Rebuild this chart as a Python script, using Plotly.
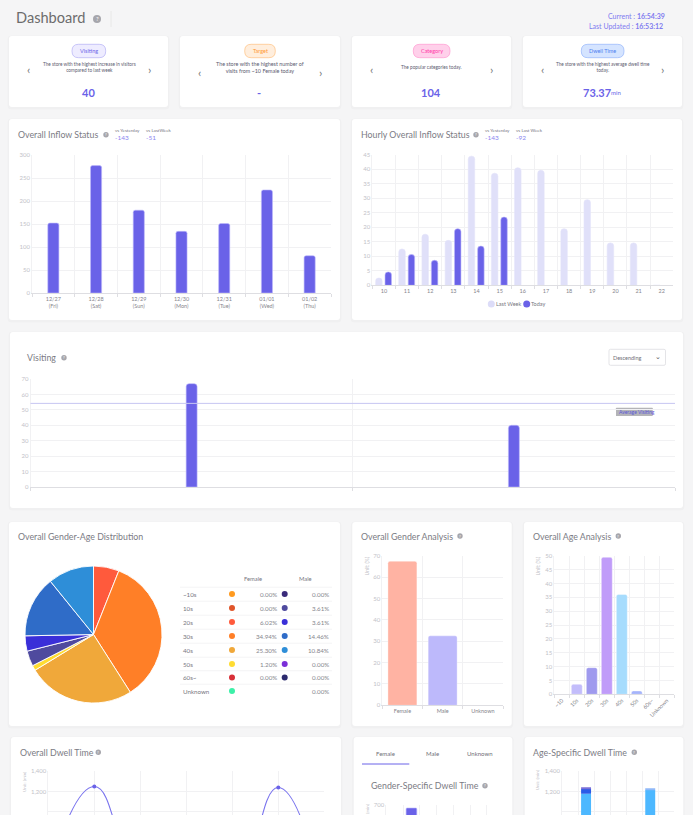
#!/usr/bin/env python3
# -*- coding: utf-8 -*-
import plotly.graph_objects as go

# page size in pixels
W = 693
H = 815
FONT = "Lato"

PURPLE = "#6a62e8"
LIGHT_PURPLE = "#bdb9fb"
TITLE_GREY = "#7b7b84"
TICK_GREY = "#c2c2c8"
GRID = "#f1f1f3"
AXIS_LINE = "#dedee2"
TITLE_SIZE = 8.8

# Overall inflow
inflow_days = ["12/27<br>(Fri)", "12/28<br>(Sat)", "12/29<br>(Sun)", "12/30<br>(Mon)",
               "12/31<br>(Tue)", "01/01<br>(Wed)", "01/02<br>(Thu)"]
inflow_values = [152, 277, 180, 134, 151, 224, 81]

# Hourly inflow
hours = ["10", "11", "12", "13", "14", "15", "16", "17", "18", "19", "20", "21", "22"]
hourly_last_week = [2.5, 12.5, 17.6, 15.5, 44.5, 38.6, 40.5, 39.6, 19.5, 29.5, 14.6, 14.6, 0]
hourly_today = [4.6, 10.6, 8.6, 19.5, 13.5, 23.5, None, None, None, None, None, None, None]

# Visiting
visiting_stores = ["A", "B"]
visiting_values = [67, 40]
visiting_average = 54.2

# Gender-age distribution
age_rows = ["~10s", "10s", "20s", "30s", "40s", "50s", "60s~", "Unknown"]
female_pct = [0.00, 0.00, 6.02, 34.94, 25.30, 1.20, 0.00, None]
male_pct = [0.00, 3.61, 3.61, 14.46, 10.84, 0.00, 0.00, 0.00]
female_colors = ["#ff9a1f", "#e0552a", "#ff5a3c", "#ff7f27", "#f0a83a", "#ffdc32", "#d83038", "#3cf0a8"]
male_colors = ["#3a2a7a", "#4f4a9e", "#3a2fd8", "#2f6cc8", "#2e8ed8", "#7b2fd8", "#2c2a6e"]

# Gender analysis
gender_names = ["Female", "Male", "Unknown"]
gender_values = [67.4, 32.5, 0]
gender_colors = ["#ffb3a3", "#bdb9fb", "#dddddd"]

# Age analysis
age_names = ["~10", "10s", "20s", "30s", "40s", "50s", "60s~", "Unknown"]
age_values = [0, 3.6, 9.6, 49.4, 36.0, 1.2, 0, 0]
age_colors = ["#c3bdfb", "#c3bdfb", "#9f9aee", "#c09cf9", "#a6dcfd", "#a5b4fb", "#a5b4fb", "#a5b4fb"]

# Dwell time
dwell_slots = [0, 1, 2, 3, 4, 5, 6]
dwell_values = [380, 1250, 380, 400, 250, 1240, 150]
gender_dwell_slots = ["a", "b", "c", "d", "e", "f", "g"]
gender_dwell_values = [0, 685, 0, 0, 0, 0, 0]
age_dwell_slots = ["a", "b", "c", "d", "e", "f", "g"]
age_dwell_first = [0, 1180, 0, 0, 0, 1215, 0]
age_dwell_second = [0, 45, 0, 0, 0, 17, 0]
age_dwell_third = [0, 15, 0, 0, 0, 0, 0]
age_dwell_second_colors = ["#2a5be8", "#2a5be8", "#2a5be8", "#2a5be8", "#2a5be8", "#8fb8f8", "#2a5be8"]

# top cards text
card_tags = ["Visiting", "Target", "Category", "Dwell Time"]
card_notes = ["The store with the highest increase in visitors<br>compared to last week",
              "The store with the highest number of<br>visits from ~10 Female today",
              "The popular categories today.",
              "The store with the highest average dwell time<br>today."]
card_numbers = ["40", "-", "104", "73.37"]


def px(x):
    return x / W


def py(y):
    return 1 - y / H


shapes = []
annotations = []


def text(x, y, s, size=6, color=TITLE_GREY, anchor="left", angle=0):
    annotations.append(dict(x=px(x), y=py(y), xref="paper", yref="paper", text=s, showarrow=False,
                            xanchor=anchor, yanchor="middle", textangle=angle,
                            font=dict(family=FONT, size=size, color=color),
                            borderpad=0, borderwidth=0))


def rounded(x0, y0, x1, y1, r, fill, line=None, width=0.7):
    X0, X1 = px(x0), px(x1)
    Y0, Y1 = py(y0), py(y1)
    rx, ry = r / W, r / H
    path = (f"M {X0 + rx} {Y0} L {X1 - rx} {Y0} Q {X1} {Y0} {X1} {Y0 - ry} "
            f"L {X1} {Y1 + ry} Q {X1} {Y1} {X1 - rx} {Y1} "
            f"L {X0 + rx} {Y1} Q {X0} {Y1} {X0} {Y1 + ry} "
            f"L {X0} {Y0 - ry} Q {X0} {Y0} {X0 + rx} {Y0} Z")
    shapes.append(dict(type="path", path=path, xref="paper", yref="paper", fillcolor=fill,
                       line=dict(color=line if line else fill, width=width if line else 0),
                       layer="below"))


def dot(x, y, r, color):
    shapes.append(dict(type="circle", xref="paper", yref="paper", x0=px(x - r), x1=px(x + r),
                       y0=py(y + r), y1=py(y - r), fillcolor=color, line=dict(width=0),
                       layer="below"))


def hline(x0, x1, y, color, width=0.7):
    shapes.append(dict(type="line", xref="paper", yref="paper", x0=px(x0), x1=px(x1), y0=py(y), y1=py(y),
                       line=dict(color=color, width=width), layer="below"))


def help_icon(x, y, r=2.7):
    dot(x, y, r, "#a6a6ac")
    text(x, y, "?", size=r * 1.5, color="white", anchor="center")


def card(x0, y0, x1, y1):
    rounded(x0 - 1.5, y0 - 0.5, x1 + 1.5, y1 + 2.5, 4, "rgba(0,0,0,0.018)")
    rounded(x0, y0, x1, y1, 3, "white")


def axes(n, x0, x1, top, bottom, yrange, dtick, xrange, tick_size=6, show_x=True, boundaries=True,
         tickformat=None, xcolor="#85858c", tickangle=None):
    xname = "xaxis" if n == 1 else f"xaxis{n}"
    yname = "yaxis" if n == 1 else f"yaxis{n}"
    anchor_y = "y" if n == 1 else f"y{n}"
    anchor_x = "x" if n == 1 else f"x{n}"
    xa = dict(domain=[px(x0), px(x1)], anchor=anchor_y, range=xrange, showgrid=True, gridcolor=GRID,
              gridwidth=0.7, showline=True, linecolor=AXIS_LINE, linewidth=0.8, zeroline=False,
              ticks="outside", ticklen=3, tickcolor=AXIS_LINE, tickwidth=0.7, showticklabels=show_x,
              tickfont=dict(family=FONT, size=tick_size, color=xcolor), fixedrange=True)
    if boundaries:
        xa["tickson"] = "boundaries"
        xa["type"] = "category"
    else:
        xa["dtick"] = 1
    if tickangle is not None:
        xa["tickangle"] = tickangle
    ya = dict(domain=[py(bottom), py(top)], anchor=anchor_x, range=yrange, dtick=dtick, showgrid=True,
              gridcolor=GRID, gridwidth=0.7, showline=True, linecolor=GRID, linewidth=0.7, zeroline=False,
              ticks="", tickfont=dict(family=FONT, size=6, color=TICK_GREY), fixedrange=True)
    if tickformat:
        ya["tickformat"] = tickformat
    return {xname: xa, yname: ya}


def bar(n, x, y, color, width, offset=None, base=None, edge=None, radius=2, edge_width=0.6):
    return go.Bar(x=x, y=y, xaxis="x" if n == 1 else f"x{n}", yaxis="y" if n == 1 else f"y{n}",
                  width=width, offset=offset, base=base, showlegend=False, hoverinfo="skip",
                  marker=dict(color=color, cornerradius=radius,
                              line=dict(color=edge if edge else LIGHT_PURPLE, width=edge_width)))


fig = go.Figure()
layout_axes = {}

# page header
text(16, 18, "Dashboard", size=14.6, color="#6c6c6c")
help_icon(97, 19, r=4)
shapes.append(dict(type="line", xref="paper", yref="paper", x0=px(111), x1=px(111), y0=py(11), y1=py(27),
                   line=dict(color="#e4e4e4", width=0.8), layer="below"))
text(665, 15.5, "Current : <b>16:54:39</b>", size=7, color="#7f7af0", anchor="right")
text(663, 25.5, "Last Updated : <b>16:53:12</b>", size=7, color="#7f7af0", anchor="right")

# top cards
top_boxes = [(9, 168), (180, 340), (352, 511), (523, 682)]
pill_boxes = [(72, 105.7), (244.7, 275.3), (413.3, 450), (581.3, 624)]
pill_styles = [("#eeecff", "#b5b0f5", "#6c63e8"), ("#ffeedd", "#ffc080", "#ff9933"),
               ("#ffd0ea", "#ff9ad0", "#ff3aa8"), ("#d5e4ff", "#93b5fa", "#4d80f0")]
note_pos = [(89, 67.5, 4.7), (260, 67.5, 5.4), (431.7, 67.3, 4.7), (602.7, 67.5, 4.7)]
chev_pos = [(28.7, 149, 70), (199.7, 320, 72), (371.3, 491.3, 70), (542.3, 662.7, 70)]
number_pos = [88, 259.3, 430.7, 597]
for i in range(4):
    card(top_boxes[i][0], 36, top_boxes[i][1], 107)
    fill, edge, ink = pill_styles[i]
    rounded(pill_boxes[i][0], 44.3, pill_boxes[i][1], 57.7, 6.5, fill, edge)
    text(sum(pill_boxes[i]) / 2, 50.7, card_tags[i], size=5.5, color=ink, anchor="center")
    text(note_pos[i][0], note_pos[i][1], card_notes[i], size=note_pos[i][2], color="#5c5c70", anchor="center")
    text(chev_pos[i][0], chev_pos[i][2], "‹", size=12, color="#777", anchor="center")
    text(chev_pos[i][1], chev_pos[i][2], "›", size=12, color="#777", anchor="center")
    text(number_pos[i], 92, "<b>" + card_numbers[i] + "</b>", size=11, color=PURPLE, anchor="center")
text(611, 92.5, "min", size=6, color=PURPLE)

# overall inflow
card(9, 119, 340, 320)
text(18, 134.7, "Overall Inflow Status", size=TITLE_SIZE)
help_icon(106, 134.7)
text(115.3, 131, "vs Yesterday", size=4.5, color="#77777f")
text(115.3, 137.7, "-143", size=6.5, color="#8b86f0")
text(146.3, 131, "vs LastWeek", size=4.5, color="#77777f")
text(146.3, 137.7, "-51", size=6.5, color="#8b86f0")
layout_axes.update(axes(1, 32, 331, 155, 293, [0, 300], 50, [-0.5, 6.5], tick_size=5.5))
fig.add_trace(bar(1, inflow_days, inflow_values, PURPLE, 0.26))

# hourly inflow
card(352, 119, 682, 320)
text(360.7, 134.7, "Hourly Overall Inflow Status", size=TITLE_SIZE)
help_icon(476, 134.7)
text(485.3, 131, "vs Yesterday", size=4.5, color="#77777f")
text(485.3, 137.7, "-143", size=6.5, color="#8b86f0")
text(516.3, 131, "vs Last Week", size=4.5, color="#77777f")
text(516.3, 137.7, "-92", size=6.5, color="#8b86f0")
layout_axes.update(axes(2, 372.3, 673.3, 154.7, 285.3, [0, 45], 5, [-0.5, 12.5], tick_size=5.5))
fig.add_trace(bar(2, hours, hourly_last_week, "#e0e0f9", 0.28, offset=-0.356, edge="#e4e4fa", radius=3))
fig.add_trace(bar(2, hours, hourly_today, PURPLE, 0.28, offset=0.05, radius=3))
dot(491.3, 304, 3.5, "#dcdcf8")
text(495.7, 304, "Last Week", size=5.5, color="#77777f")
dot(526.7, 304, 3.5, PURPLE)
text(531, 304, "Today", size=5.5, color="#77777f")

# visiting
card(10, 332, 683, 508)
text(27.4, 357.7, "Visiting", size=TITLE_SIZE)
help_icon(64, 357.7)
rounded(609, 349.3, 665.5, 365.3, 1.5, "white", "#d8d8dc")
text(613.3, 357.5, "Descending", size=5.5, color="#6f6f78")
text(657.5, 356.5, "⌄", size=7, color="#555", anchor="center")
layout_axes.update(axes(3, 30.5, 675, 379, 487, [0, 70], 10, [-0.5, 1.5], show_x=False))
fig.add_trace(bar(3, visiting_stores, visiting_values, PURPLE, 0.034, radius=3))
shapes.append(dict(type="line", xref="paper", yref="y3", x0=px(30.5), x1=px(675), y0=visiting_average,
                   y1=visiting_average, line=dict(color="#c7c5f2", width=1), layer="above"))
rounded(616, 407.7, 652.7, 416, 0.5, "#b4b4b8")
text(619, 411.8, "Average Visiting", size=5, color="#5a55d8")

# gender-age distribution
card(9, 522, 340, 726)
text(18, 536, "Overall Gender-Age Distribution", size=TITLE_SIZE)
pie_labels = [a + " F" for a in age_rows] + [a + " M" for a in age_rows[:-1]]
pie_values = [v or 0 for v in female_pct] + male_pct[:-1]
pie_colors = female_colors + male_colors
fig.add_trace(go.Pie(labels=[l for l, v in zip(pie_labels, pie_values) if v > 0],
                     values=[v for v in pie_values if v > 0],
                     marker=dict(colors=[c for c, v in zip(pie_colors, pie_values) if v > 0],
                                 line=dict(color="white", width=0.9)),
                     sort=False, direction="clockwise", rotation=0, textinfo="none", hoverinfo="skip",
                     showlegend=False, domain=dict(x=[px(25), px(162)], y=[py(703), py(566)])))
text(253, 578, "Female", size=5.8, color="#77777f", anchor="center")
text(305, 578, "Male", size=5.8, color="#77777f", anchor="center")
row_y = [594, 608, 622, 636, 650, 664, 677.5, 691]
for i, row in enumerate(age_rows):
    hline(180, 332, row_y[i] - 6.8, "#efeff1")
    text(182.7, row_y[i], row, size=6.2, color="#77777f")
    dot(232, row_y[i], 3, female_colors[i])
    if female_pct[i] is not None:
        text(277, row_y[i], f"{female_pct[i]:.2f}%", size=6.2, color="#85858c", anchor="right")
    if i < len(male_colors):
        dot(284.7, row_y[i], 3, male_colors[i])
    text(329, row_y[i], f"{male_pct[i]:.2f}%", size=6.2, color="#85858c", anchor="right")

# gender analysis
card(352.3, 522, 511.7, 726)
text(361, 536, "Overall Gender Analysis", size=TITLE_SIZE)
help_icon(460, 536)
text(366.7, 565.7, "Unit: (%)", size=5, color=TICK_GREY, anchor="center", angle=-90)
layout_axes.update(axes(4, 382.3, 503, 555.7, 705.3, [0, 70], 10, [-0.5, 2.5], tick_size=5.5))
fig.add_trace(bar(4, gender_names, gender_values, gender_colors, 0.72, edge="rgba(255,255,255,0.6)"))

# age analysis
card(524, 522, 683, 726)
text(532.7, 536, "Overall Age Analysis", size=TITLE_SIZE)
help_icon(618.3, 536)
text(537.7, 565.7, "Unit: (%)", size=5, color=TICK_GREY, anchor="center", angle=-90)
layout_axes.update(axes(5, 554.3, 674.3, 555.7, 694.3, [0, 50], 5, [-0.5, 7.5], tick_size=5.5, tickangle=-45))
fig.add_trace(bar(5, age_names, age_values, age_colors, 0.73, edge="rgba(255,255,255,0.6)"))

# overall dwell time
card(11, 737, 341, 820)
text(19.7, 752.3, "Overall Dwell Time", size=TITLE_SIZE)
help_icon(98.3, 752.3)
text(24.3, 781.7, "Unit: (min)", size=4.5, color=TICK_GREY, anchor="center", angle=-90)
layout_axes.update(axes(6, 48.3, 324.3, 771.3, 815, [970, 1400], 200, [0, 6], show_x=False, boundaries=False,
                        tickformat=","))
fig.add_trace(go.Scatter(x=dwell_slots, y=dwell_values, xaxis="x6", yaxis="y6", mode="lines+markers",
                         line=dict(color="#7a74ee", width=1.1, shape="spline", smoothing=1.3),
                         marker=dict(color=PURPLE, size=4), showlegend=False, hoverinfo="skip"))

# gender-specific dwell time
card(353.7, 737, 512.3, 820)
text(385.3, 753.3, "Female", size=6, color="#6f6f78", anchor="center")
text(432.7, 753.3, "Male", size=6, color="#6f6f78", anchor="center")
text(480, 753.3, "Unknown", size=6, color="#6f6f78", anchor="center")
hline(362, 409.3, 764, PURPLE, width=1)
text(371, 785.7, "Gender-Specific Dwell Time", size=TITLE_SIZE)
help_icon(485, 785.7)
# only the end of the rotated unit label fits above the page edge
text(366.7, 809, "(min)", size=4.5, color=TICK_GREY, anchor="center", angle=-90)
layout_axes.update(axes(7, 386.3, 503.7, 805, 815, [650, 700], 100, [-0.5, 6.5], show_x=False))
fig.add_trace(bar(7, gender_dwell_slots, gender_dwell_values, PURPLE, 0.64, radius=1))

# age-specific dwell time
card(524.7, 737, 683.3, 820)
text(533.3, 752.3, "Age-Specific Dwell Time", size=TITLE_SIZE)
help_icon(634.3, 752.3)
text(537.3, 780, "Unit: (min)", size=4.5, color=TICK_GREY, anchor="center", angle=-90)
layout_axes.update(axes(8, 562, 674.3, 771.3, 815, [970, 1400], 200, [-0.5, 6.5], show_x=False, tickformat=","))
stack_base = [0] * len(age_dwell_slots)
for values, color in [(age_dwell_first, "#4db8ff"), (age_dwell_second, age_dwell_second_colors), (age_dwell_third, "#7a70d8")]:
    fig.add_trace(bar(8, age_dwell_slots, values, color, 0.62, offset=-0.31, base=stack_base, radius=0, edge_width=0))
    stack_base = [b + v for b, v in zip(stack_base, values)]

fig.update_layout(width=W, height=H, margin=dict(l=0, r=0, t=0, b=0, autoexpand=False), paper_bgcolor="#f5f5f6",
                  plot_bgcolor="rgba(0,0,0,0)", barmode="overlay", shapes=shapes, annotations=annotations,
                  font=dict(family=FONT), **layout_axes)

fig.write_html("out.html", config=dict(displayModeBar=False),
               post_script="document.body.style.margin='0';document.body.style.overflow='hidden';")
